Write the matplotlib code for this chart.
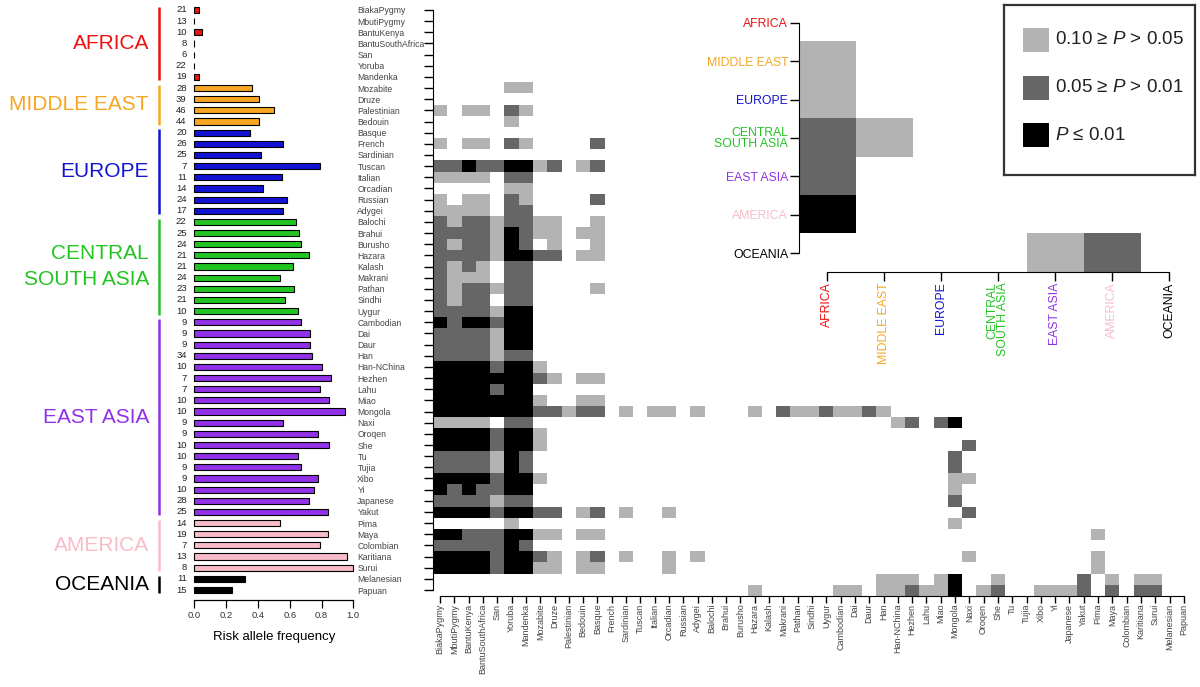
import matplotlib
matplotlib.use('Agg')
import matplotlib.pyplot as plt
import numpy as np
from matplotlib.colors import ListedColormap, BoundaryNorm
from matplotlib.patches import Rectangle

plt.rcParams['font.family'] = ['Liberation Sans', 'DejaVu Sans']
plt.rcParams['mathtext.fontset'] = 'custom'
plt.rcParams['mathtext.rm'] = 'Liberation Sans'
plt.rcParams['mathtext.it'] = 'Liberation Sans:italic'

populations = ['BiakaPygmy', 'MbutiPygmy', 'BantuKenya', 'BantuSouthAfrica', 'San', 'Yoruba', 'Mandenka',
               'Mozabite', 'Druze', 'Palestinian', 'Bedouin',
               'Basque', 'French', 'Sardinian', 'Tuscan', 'Italian', 'Orcadian', 'Russian', 'Adygei',
               'Balochi', 'Brahui', 'Burusho', 'Hazara', 'Kalash', 'Makrani', 'Pathan', 'Sindhi', 'Uygur',
               'Cambodian', 'Dai', 'Daur', 'Han', 'Han-NChina', 'Hezhen', 'Lahu', 'Miao', 'Mongola', 'Naxi',
               'Oroqen', 'She', 'Tu', 'Tujia', 'Xibo', 'Yi', 'Japanese', 'Yakut',
               'Pima', 'Maya', 'Colombian', 'Karitiana', 'Surui',
               'Melanesian', 'Papuan']
sample_sizes = [21, 13, 10, 8, 6, 22, 19,
                28, 39, 46, 44,
                20, 26, 25, 7, 11, 14, 24, 17,
                22, 25, 24, 21, 21, 24, 23, 21, 10,
                9, 9, 9, 34, 10, 7, 7, 10, 10, 9, 9, 10, 10, 9, 9, 10, 28, 25,
                14, 19, 7, 13, 8,
                11, 15]
risk_freq = [0.03, 0.0, 0.05, 0.0, 0.0, 0.0, 0.03,
             0.36, 0.41, 0.50, 0.41,
             0.35, 0.56, 0.42, 0.79, 0.55, 0.43, 0.58, 0.56,
             0.64, 0.66, 0.67, 0.72, 0.62, 0.54, 0.63, 0.57, 0.65,
             0.67, 0.725, 0.725, 0.74, 0.80, 0.86, 0.79, 0.85, 0.95, 0.56, 0.78, 0.85,
             0.65, 0.67, 0.78, 0.75, 0.72, 0.84,
             0.54, 0.84, 0.79, 0.96, 1.0,
             0.32, 0.24]

regions = ['AFRICA', 'MIDDLE EAST', 'EUROPE', 'CENTRAL\nSOUTH ASIA', 'EAST ASIA', 'AMERICA', 'OCEANIA']
region_sizes = [7, 4, 8, 9, 18, 5, 2]
region_colors = ['#ee1111', '#f6a623', '#1212d4', '#22c422', '#9131e8', '#f7bcc8', '#000000']

# pairwise P-value class, lower triangle (row vs. earlier columns)
# '.' not significant, 'l' 0.10>=P>0.05, 'd' 0.05>=P>0.01, 'b' P<=0.01
pair_p = [
    '', '', '', '', '', '', '',
    '.....ll',
    '',
    'l.ll.dl',
    '.....l',
    '',
    'l.ll.dl....d',
    '',
    'ddbddbbld.ld',
    'llll.dd',
    '.....ll',
    'l.ll.dl....d',
    'llll.dd',
    'dlddlddll..l',
    'ddddlbdll.ll',
    'dlddlbd.l..l',
    'ddddlbbdd.ll',
    'dldl.dd',
    'dlll.dd',
    'dlddldd....l',
    'dldd.dd',
    'ddddlbb',
    'bdbbdbb',
    'ddddlbb',
    'ddddlbb',
    'ddddldd',
    'bbbbdbbl',
    'bbbbbbbdl.ll',
    'bbbbdbb',
    'bbbbbbbl..ll',
    'bbbbbbbddldd.l.ll.l...l.dlldlldl',
    'llll.dd' + '.' * 25 + 'ld.db',
    'bbbbdbbl',
    'bbbbdbbl' + '.' * 29 + 'd',
    'ddddlbd' + '.' * 29 + 'd',
    'ddddlbd' + '.' * 29 + 'd',
    'bbbbdbbl' + '.' * 28 + 'll',
    'bdbddbb' + '.' * 29 + 'l',
    'ddddldd' + '.' * 29 + 'd',
    'bbbbdbbdd.ld.l..l' + '.' * 20 + 'd',
    '.....l' + '.' * 30 + 'l',
    'bbdddbbll.ll' + '.' * 34 + 'l',
    'dddddbd',
    'bbbbdbbdl.ld.l..l.l' + '.' * 18 + 'l' + '.' * 8 + 'l',
    'bbbbdbbll.ll....l' + '.' * 29 + 'l',
    '.' * 31 + 'lll.lb..l.....d.l.ll',
    '.' * 22 + 'l.....ll.lldllb.ld..llld.d.dd',
]
region_p = ['', 'l', 'l', 'dl', 'd', 'b', '....ld']

level_colors = ['white', '#b3b3b3', '#666666', '#000000']
legend_labels = ['0.10 \u2265 $P$ > 0.05', '0.05 \u2265 $P$ > 0.01', '$P$ \u2264 0.01']

codes = {'.': 0, 'l': 1, 'd': 2, 'b': 3}


def tri_matrix(rows):
    n = len(rows)
    m = np.full((n, n), np.nan)
    for i, r in enumerate(rows):
        r = r.ljust(i, '.')
        for j, c in enumerate(r):
            m[i, j] = codes[c]
    return np.ma.masked_invalid(m)


cmap = ListedColormap(level_colors)
norm = BoundaryNorm([-0.5, 0.5, 1.5, 2.5, 3.5], 4)
n = len(populations)

W, H = 1200, 687
fig = plt.figure(figsize=(12, 6.87), dpi=100)


def px_axes(x0, y0, x1, y1):
    return fig.add_axes([x0 / W, 1 - y1 / H, (x1 - x0) / W, (y1 - y0) / H])


# ---- bar chart of risk allele frequency
ax_bar = px_axes(194.3, 4.4, 353.3, 595.6)
ax_bar.set_facecolor('none')
bar_colors = [c for c, k in zip(region_colors, region_sizes) for _ in range(k)]
ax_bar.barh(np.arange(n), risk_freq, height=0.55, color=bar_colors, edgecolor='black',
            linewidth=0.8, clip_on=False)
ax_bar.set_xlim(0, 1)
ax_bar.set_ylim(n - 0.5, -0.5)
for s in ['left', 'right', 'top']:
    ax_bar.spines[s].set_visible(False)
ax_bar.spines['bottom'].set_position(('outward', 3.2))
ax_bar.spines['bottom'].set_bounds(0, 1)
ax_bar.spines['bottom'].set_linewidth(0.9)
ax_bar.set_yticks([])
xt = np.arange(0, 1.01, 0.2)
ax_bar.set_xticks(xt)
ax_bar.set_xticklabels([f'{v:.1f}' for v in xt], fontsize=6.8, color='#333333')
ax_bar.tick_params(axis='x', length=6, width=0.9, pad=2)
ax_bar.set_xlabel('Risk allele frequency', fontsize=9.5, labelpad=8)

for i, cnt in enumerate(sample_sizes):
    ax_bar.text(-0.048, i, str(cnt), ha='right', va='center', fontsize=6.8, color='#222222')

start = 0
for reg, k, col in zip(regions, region_sizes, region_colors):
    ax_bar.plot([-0.222, -0.222], [start - 0.3, start + k - 1 + 0.3], color=col, lw=1.8,
                clip_on=False, solid_capstyle='butt')
    ax_bar.text(-0.285, start + (k - 1) / 2, reg, ha='right', va='center', fontsize=15,
                color=col, linespacing=1.5, multialignment='right', clip_on=False)
    start += k

# ---- pairwise heatmap
ax_hm = px_axes(433, 4.4, 1191, 595.6)
ax_hm.set_facecolor('none')
ax_hm.imshow(tri_matrix(pair_p), cmap=cmap, norm=norm, aspect='auto', interpolation='nearest')
ax_hm.set_xlim(-0.5, n - 0.5)
ax_hm.set_ylim(n - 0.5, -0.5)
ax_hm.spines['top'].set_visible(False)
ax_hm.spines['right'].set_visible(False)
ax_hm.spines['left'].set_bounds(0, n - 1)
ax_hm.spines['bottom'].set_bounds(0, n - 1)
ax_hm.set_xticks(range(n))
ax_hm.set_xticklabels(populations, rotation=90, fontsize=6.5, color='#444444')
ax_hm.set_yticks(range(n))
ax_hm.set_yticklabels(populations, fontsize=6.2, color='#444444', ha='left')
ax_hm.tick_params(axis='y', length=6.5, width=1, pad=48)
ax_hm.tick_params(axis='x', length=4.8, width=1, pad=1)

# ---- region-level inset
ax_in = px_axes(798.5, 3.8, 1197.5, 272.2)
ax_in.set_facecolor('none')
ax_in.imshow(tri_matrix(region_p), cmap=cmap, norm=norm, aspect='auto', interpolation='nearest')
ax_in.set_xlim(-0.5, 6.5)
ax_in.set_ylim(6.5, -0.5)
ax_in.spines['top'].set_visible(False)
ax_in.spines['right'].set_visible(False)
ax_in.spines['left'].set_bounds(0, 6)
ax_in.spines['bottom'].set_bounds(0, 6)
ax_in.set_yticks(range(7))
ax_in.set_yticklabels(regions, fontsize=8.8, linespacing=0.85, multialignment='right')
ax_in.set_xticks(range(7))
ax_in.set_xticklabels(regions, fontsize=8.8, rotation=90, linespacing=0.85, multialignment='right')
for t, c in zip(ax_in.get_yticklabels(), region_colors):
    t.set_color(c)
for t, c in zip(ax_in.get_xticklabels(), region_colors):
    t.set_color(c)
ax_in.tick_params(length=6.5, width=1, pad=1)

# ---- legend box
ax_leg = px_axes(1004, 5, 1195, 175)
ax_leg.set_xlim(0, 191)
ax_leg.set_ylim(170, 0)
ax_leg.set_xticks([])
ax_leg.set_yticks([])
for sp in ax_leg.spines.values():
    sp.set_linewidth(1.6)
    sp.set_color('#333333')
for k, (lab, col) in enumerate(zip(legend_labels, level_colors[1:])):
    y0 = 23 + 47.5 * k
    ax_leg.add_patch(Rectangle((19, y0), 26, 24, facecolor=col, edgecolor='none'))
    ax_leg.text(51, y0 + 12, lab, fontsize=13.5, va='center', ha='left', color='#222222')

fig.savefig('out.png', dpi=100)
